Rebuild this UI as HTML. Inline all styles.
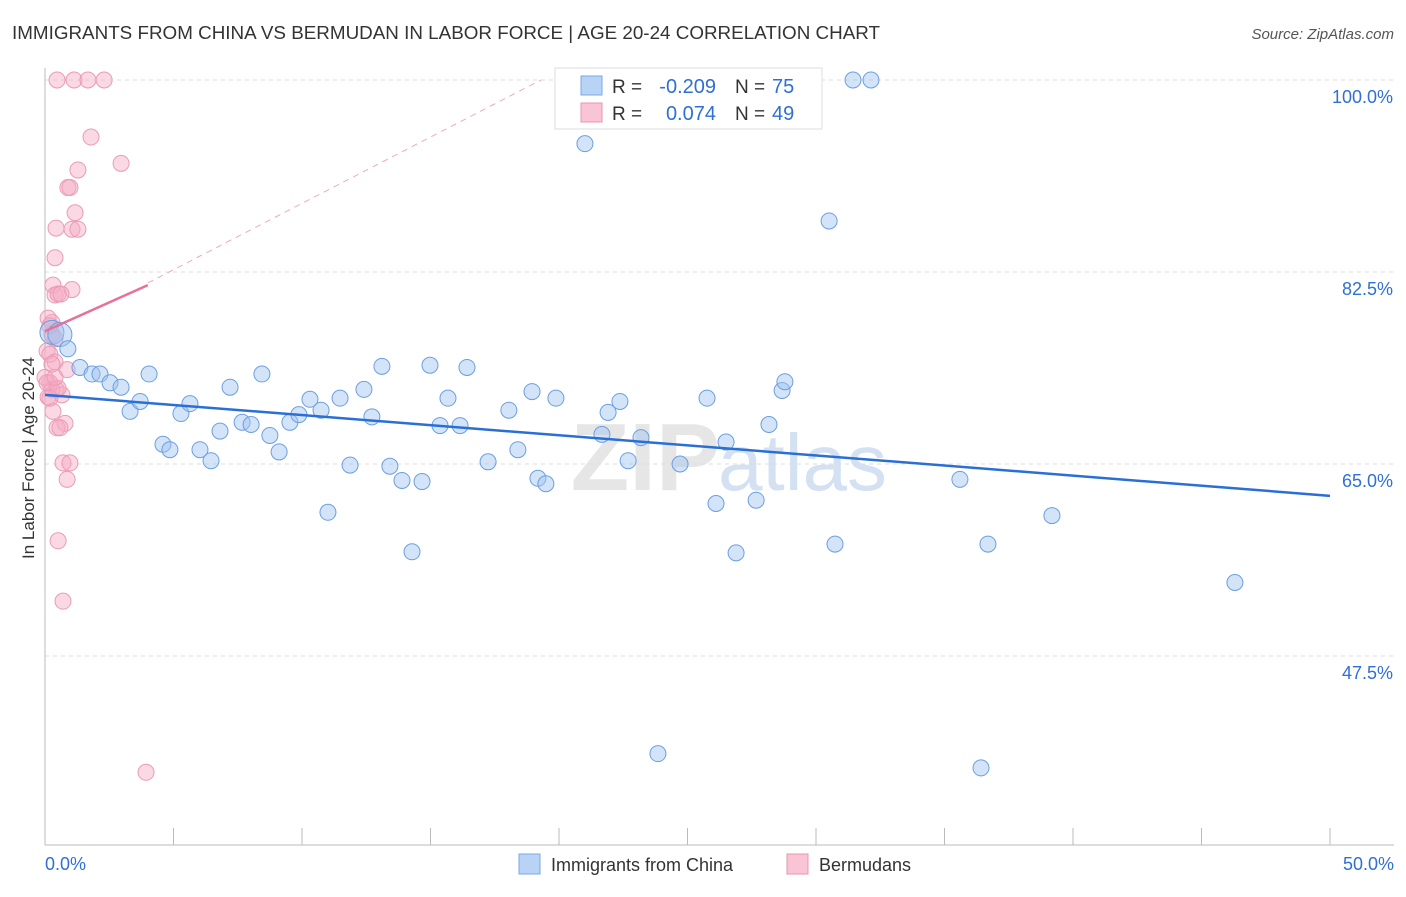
<!DOCTYPE html>
<html><head><meta charset="utf-8"><style>
body{margin:0;background:#fff;font-family:"Liberation Sans",sans-serif;}
</style></head><body>
<svg width="1406" height="892" xmlns="http://www.w3.org/2000/svg" id="chart">
<text x="12" y="39" font-size="18" fill="#333" textLength="868" lengthAdjust="spacingAndGlyphs">IMMIGRANTS FROM CHINA VS BERMUDAN IN LABOR FORCE | AGE 20-24 CORRELATION CHART</text>
<text x="1394" y="39" font-size="15" fill="#555" font-style="italic" text-anchor="end">Source: ZipAtlas.com</text>
<text transform="translate(34,458) rotate(-90)" font-size="17" fill="#333" text-anchor="middle">In Labor Force | Age 20-24</text>
<text x="720" y="490" font-size="96" font-weight="bold" fill="#e6e6e6" text-anchor="end">ZIP</text>
<text x="718" y="490" font-size="80" fill="#d3e1f3">atlas</text>
<g id="grid"></g><g id="pts"></g><g id="trend"></g>
<g>
<rect x="555" y="68" width="267" height="61" fill="#fff" stroke="#ddd"/>
<rect x="581" y="76" width="21" height="19" fill="#b8d3f5" stroke="#7aa8e6"/>
<text x="612" y="93" font-size="19" fill="#333">R =</text>
<text x="716" y="93" font-size="20" fill="#2f6fd6" text-anchor="end">-0.209</text>
<text x="735" y="93" font-size="19" fill="#333">N =</text>
<text x="772" y="93" font-size="20" fill="#2f6fd6">75</text>
<rect x="581" y="103" width="21" height="19" fill="#f9c5d5" stroke="#ea94b0"/>
<text x="612" y="120" font-size="19" fill="#333">R =</text>
<text x="716" y="120" font-size="20" fill="#2f6fd6" text-anchor="end">0.074</text>
<text x="735" y="120" font-size="19" fill="#333">N =</text>
<text x="772" y="120" font-size="20" fill="#2f6fd6">49</text>
</g>
<g>
<rect x="519" y="854" width="21" height="20" fill="#b8d3f5" stroke="#7aa8e6"/>
<text x="551" y="871" font-size="18" fill="#333">Immigrants from China</text>
<rect x="787" y="854" width="21" height="20" fill="#f9c5d5" stroke="#ea94b0"/>
<text x="819" y="871" font-size="18" fill="#333">Bermudans</text>
</g>
</svg>
<script>
const yTicks=[100,82.5,65,47.5];
const yTickLabels=["100.0%","82.5%","65.0%","47.5%"];
const xTickLabels=["0.0%","50.0%"];
const chinaX=[0.27,0.58,0.89,1.36,1.83,2.14,2.53,2.96,3.31,3.70,4.05,4.59,4.86,5.29,5.64,6.03,6.46,6.81,7.20,7.67,8.02,8.44,8.75,9.11,9.53,9.88,10.31,10.74,11.01,11.48,11.87,12.41,12.72,13.11,13.42,13.89,14.28,14.67,14.98,15.37,15.68,16.15,16.42,17.24,18.05,18.40,18.95,19.18,19.49,19.88,21.01,21.67,21.91,22.37,22.69,23.19,23.85,24.71,25.76,26.11,26.50,26.89,27.67,28.17,28.68,28.79,30.51,30.74,31.44,32.14,35.60,36.69,36.42,39.18,46.30];
const chinaY=[77.0,76.8,75.5,73.8,73.2,73.2,72.4,72.0,69.8,70.7,73.2,66.8,66.3,69.6,70.5,66.3,65.3,68.0,72.0,68.8,68.6,73.2,67.6,66.1,68.8,69.5,70.9,69.9,60.6,71.0,64.9,71.8,69.3,73.9,64.8,63.5,57.0,63.4,74.0,68.5,71.0,68.5,73.8,65.2,69.9,66.3,71.6,63.7,63.2,71.0,94.2,67.7,69.7,70.7,65.3,67.4,38.6,65.0,71.0,61.4,67.0,56.9,61.7,68.6,71.7,72.5,87.15,57.7,100,100,63.6,57.7,37.3,60.3,54.2];
const bermX=[0.47,1.13,1.67,2.30,1.79,2.96,1.28,0.89,0.97,1.17,0.43,1.05,1.28,0.39,0.31,1.05,0.39,0.51,0.62,0.27,0.27,0.39,0.08,0.19,0.39,0.86,0.19,0.27,0.43,0.66,0.12,0.31,0.78,0.47,0.58,0.70,0.97,0.86,0.51,0.70,3.93,0,0.08,0.19,0.12,0.19,0.51,0.39,0.27];
const bermY=[100,100,100,100,94.8,92.4,91.8,90.2,90.2,87.9,86.5,86.4,86.4,83.8,81.3,80.9,80.4,80.5,80.5,77.9,76.8,76.4,75.3,75.0,74.3,73.6,72.4,71.8,71.8,71.3,71.1,69.8,68.7,68.3,68.3,65.1,65.1,63.6,58.0,52.5,36.9,72.9,72.4,71.0,78.3,77.6,71.9,72.9,74.1];
const NS="http://www.w3.org/2000/svg";
const sx=v=>45+v*25.7, sy=v=>80+(100-v)*192/17.5;
const grid=document.getElementById('grid'),pts=document.getElementById('pts'),tr=document.getElementById('trend');
function mk(tag,at,p){const e=document.createElementNS(NS,tag);for(const k in at)e.setAttribute(k,at[k]);p.appendChild(e);return e;}
yTicks.forEach((t,i)=>{
 const l=mk('line',{x1:45,x2:1394,y1:sy(t),y2:sy(t),stroke:'#ddd','stroke-dasharray':'4,4'},grid);
 
 
 const tx=mk('text',{x:1393,y:sy(t)+23,'font-size':18,fill:'#2f6fd6','text-anchor':'end'},grid);tx.textContent=yTickLabels[i];
 
 
});
const ax=mk('line',{x1:45,x2:1394,y1:845,y2:845,stroke:'#bbb'},grid);


const ay=mk('line',{x1:45,x2:45,y1:68,y2:845,stroke:'#bbb'},grid);


for(let i=0;i<=10;i++){const t=mk('line',{x1:sx(i*5),x2:sx(i*5),y1:828,y2:845,stroke:'#bbb'},grid);
 
 }
[[0,'start',45],[50,'end',1394]].forEach((a,i)=>{const t=mk('text',{x:a[2],y:870,'font-size':18,fill:'#2f6fd6','text-anchor':a[1]},grid);t.textContent=xTickLabels[i];
 
 });
bermX.forEach((x,i)=>{const c=mk('circle',{cx:sx(x),cy:sy(bermY[i]),r:8,fill:'rgba(245,170,195,0.45)',stroke:'#ec9ab5','stroke-width':1},pts);
 
 });
chinaX.forEach((x,i)=>{const c=mk('circle',{cx:sx(x),cy:sy(chinaY[i]),r:i<2?12:8,fill:'rgba(160,195,240,0.45)',stroke:'#6b9fe0','stroke-width':1},pts);
 
 });
const b=mk('line',{x1:sx(0),y1:sy(71.3),x2:sx(50),y2:sy(62.1),stroke:'#2a6fd6','stroke-width':2.5},tr);


const pd=mk('line',{x1:sx(4),y1:sy(81.5),x2:sx(19.3),y2:sy(100),stroke:'#eeaabf','stroke-width':1,'stroke-dasharray':'6,5'},tr);


const p=mk('line',{x1:sx(0),y1:sy(77.1),x2:sx(4),y2:sy(81.3),stroke:'#e8709a','stroke-width':2.5},tr);


</script>
</body></html>
